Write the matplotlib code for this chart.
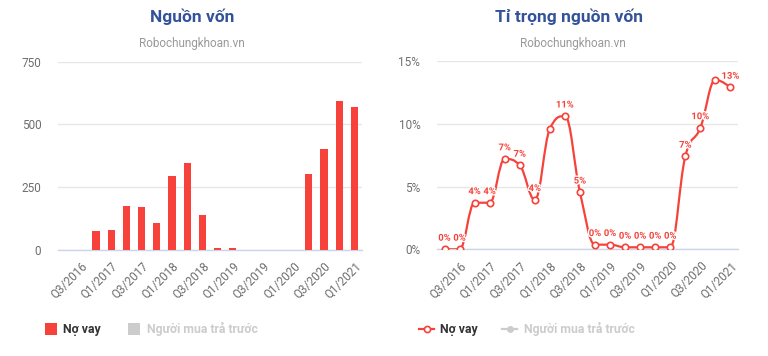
import matplotlib
matplotlib.use("Agg")
import matplotlib.pyplot as plt
import matplotlib.patheffects as pe
from matplotlib.path import Path
from matplotlib.patches import PathPatch, Rectangle
from matplotlib.lines import Line2D

plt.rcParams['font.family'] = ['Roboto', 'DejaVu Sans']

# ---------------- data ----------------
quarters = ["Q2/2016", "Q3/2016", "Q4/2016", "Q1/2017", "Q2/2017", "Q3/2017", "Q4/2017",
            "Q1/2018", "Q2/2018", "Q3/2018", "Q4/2018", "Q1/2019", "Q2/2019", "Q3/2019",
            "Q4/2019", "Q1/2020", "Q2/2020", "Q3/2020", "Q4/2020", "Q1/2021"]
no_vay = [0, 0, 76, 80, 176, 173, 109, 296, 348, 141, 9, 9, 0, 0, 0, 0, 301, 401, 594, 571]
ti_trong = [0.0, 0.0, 3.71, 3.71, 7.2, 6.69, 3.95, 9.6, 10.61, 4.55, 0.37, 0.37,
            0.16, 0.16, 0.16, 0.16, 7.41, 9.68, 13.5, 12.9]
# labels hidden by the chart because of overlap
hidden_labels = [7, 18]
left_yticks = [0, 250, 500, 750]
right_yticks = [0, 5, 10, 15]
title_left = "Nguồn vốn"
title_right = "Tỉ trọng nguồn vốn"
subtitle = "Robochungkhoan.vn"
legend_main = "Nợ vay"
legend_off = "Người mua trả trước"

RED = '#f6423a'
GRID = '#e6e6e6'
AXIS = '#ccd6eb'
TICK = '#6e6e6e'
TITLE = '#33529a'

W, H = 768, 356
fig = plt.figure(figsize=(W / 100, H / 100), dpi=100)


def ax_rect(x0, x1, ytop, ybot):
    return [x0 / W, (H - ybot) / H, (x1 - x0) / W, (ybot - ytop) / H]


def style_axis(ax, yticks, ylabels):
    ax.set_xlim(-0.5, len(quarters) - 0.5)
    ax.set_ylim(yticks[0], yticks[-1])
    ax.set_yticks(yticks)
    ax.set_yticklabels(ylabels)
    for s in ['top', 'right', 'left']:
        ax.spines[s].set_visible(False)
    ax.spines['bottom'].set_color(AXIS)
    ax.spines['bottom'].set_linewidth(1)
    ax.grid(axis='y', color=GRID, linewidth=1)
    ax.set_axisbelow(True)
    idx = list(range(1, len(quarters), 2))
    ax.set_xticks(idx)
    ax.set_xticklabels([quarters[i] for i in idx], rotation=45, ha='right',
                       rotation_mode='anchor')
    ax.tick_params(axis='x', length=0, pad=7, labelsize=8.5, labelcolor=TICK)
    ax.tick_params(axis='y', length=0, pad=12, labelsize=8.5, labelcolor=TICK)


# ---------------- left: bars ----------------
axL = fig.add_axes(ax_rect(58, 362, 61.7, 250))
axL.bar(range(len(quarters)), no_vay, width=0.47, color=RED, zorder=3)
style_axis(axL, left_yticks, [str(v) for v in left_yticks])

# ---------------- right: spline ----------------
axR = fig.add_axes(ax_rect(437, 738, 61, 249.3))
style_axis(axR, right_yticks, [f"{v}%" for v in right_yticks])


def spline_path(xs, ys, smoothing=1.5):
    n = len(xs)
    denom = smoothing + 1
    left = [None] * n
    right = [None] * n
    for i in range(1, n - 1):
        px, py = xs[i], ys[i]
        lx, ly = xs[i - 1], ys[i - 1]
        nx, ny = xs[i + 1], ys[i + 1]
        lcx = (smoothing * px + lx) / denom
        lcy = (smoothing * py + ly) / denom
        rcx = (smoothing * px + nx) / denom
        rcy = (smoothing * py + ny) / denom
        if rcx != lcx:
            corr = ((rcy - lcy) * (rcx - px)) / (rcx - lcx) + py - rcy
            lcy += corr
            rcy += corr
        if lcy > ly and lcy > py:
            lcy = max(ly, py); rcy = 2 * py - lcy
        elif lcy < ly and lcy < py:
            lcy = min(ly, py); rcy = 2 * py - lcy
        if rcy > ny and rcy > py:
            rcy = max(ny, py); lcy = 2 * py - rcy
        elif rcy < ny and rcy < py:
            rcy = min(ny, py); lcy = 2 * py - rcy
        left[i] = (lcx, lcy)
        right[i] = (rcx, rcy)
    verts = [(xs[0], ys[0])]
    codes = [Path.MOVETO]
    for i in range(1, n):
        c1 = right[i - 1] if right[i - 1] is not None else (xs[i - 1], ys[i - 1])
        c2 = left[i] if left[i] is not None else (xs[i], ys[i])
        verts += [c1, c2, (xs[i], ys[i])]
        codes += [Path.CURVE4] * 3
    return Path(verts, codes)


xs = list(range(len(quarters)))
axR.add_patch(PathPatch(spline_path(xs, ti_trong), facecolor='none', edgecolor=RED,
                        linewidth=1.6, zorder=3, capstyle='round', joinstyle='round'))
axR.plot(xs, ti_trong, linestyle='none', marker='o', markersize=4.6,
         markerfacecolor='white', markeredgecolor=RED, markeredgewidth=1.2, zorder=4)
for i, v in enumerate(ti_trong):
    if i in hidden_labels:
        continue
    axR.annotate(f"{round(v):.0f}%", (i, v), xytext=(0, 8), textcoords='offset points',
                 ha='center', va='center', fontsize=6.8, fontweight='bold', color=RED,
                 zorder=5, path_effects=[pe.withStroke(linewidth=2, foreground='white')],
                 annotation_clip=False)

# ---------------- titles ----------------
def ftext(x, y, s, **kw):
    fig.text(x / W, 1 - y / H, s, **kw)


ftext(192, 17, title_left, ha='center', va='center', fontsize=12.5, fontweight='bold', color=TITLE)
ftext(569, 17, title_right, ha='center', va='center', fontsize=12.5, fontweight='bold', color=TITLE)
ftext(192, 43, subtitle, ha='center', va='center', fontsize=8.5, color='#999999')
ftext(573, 43, subtitle, ha='center', va='center', fontsize=8.5, color='#999999')

# ---------------- legends ----------------
LY = 329
fig.add_artist(Rectangle((45 / W, 1 - (LY + 6) / H), 12 / W, 12 / H,
                         transform=fig.transFigure, facecolor=RED, edgecolor='none'))
ftext(63, LY, legend_main, ha='left', va='center', fontsize=8.8, fontweight='bold', color='#333333')
fig.add_artist(Rectangle((128 / W, 1 - (LY + 6) / H), 12 / W, 12 / H,
                         transform=fig.transFigure, facecolor='#cccccc', edgecolor='none'))
ftext(147, LY, legend_off, ha='left', va='center', fontsize=8.8, fontweight='bold', color='#cccccc')

fig.add_artist(Line2D([419 / W, 434 / W], [1 - LY / H, 1 - LY / H], transform=fig.transFigure,
                      color=RED, linewidth=1.6, marker=None))
fig.add_artist(Line2D([426.5 / W], [1 - LY / H], transform=fig.transFigure, linestyle='none',
                      marker='o', markersize=4.4, markerfacecolor='white', markeredgecolor=RED,
                      markeredgewidth=1.2))
ftext(440, LY, legend_main, ha='left', va='center', fontsize=8.8, fontweight='bold', color='#333333')
fig.add_artist(Line2D([502 / W, 517 / W], [1 - LY / H, 1 - LY / H], transform=fig.transFigure,
                      color='#cccccc', linewidth=1.6))
fig.add_artist(Line2D([509.5 / W], [1 - LY / H], transform=fig.transFigure, linestyle='none',
                      marker='o', markersize=4.0, markerfacecolor='#cccccc', markeredgecolor='#cccccc'))
ftext(524, LY, legend_off, ha='left', va='center', fontsize=8.8, fontweight='bold', color='#cccccc')

fig.savefig("out.png", dpi=100, facecolor='white')
